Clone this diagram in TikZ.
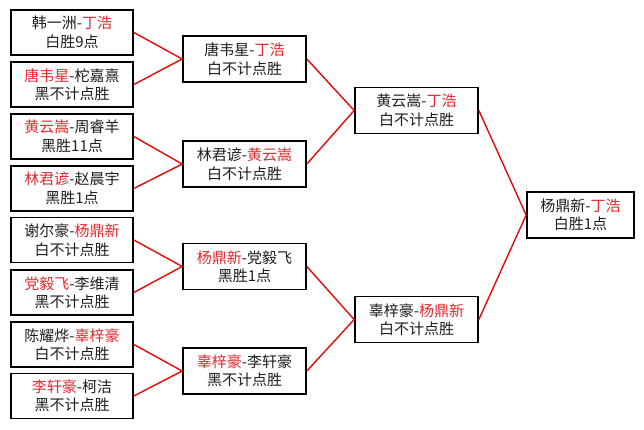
\documentclass[tikz,border=0pt]{standalone}
\usepackage{fontspec}
\newfontfamily\cjk{Noto Sans CJK SC}
\definecolor{winred}{RGB}{228,40,45}
\definecolor{linered}{RGB}{225,10,10}
\definecolor{txt}{RGB}{30,30,30}
\tikzset{
  gamebox/.style={draw=black, line width=1.7pt, fill=white, align=center, inner sep=0pt,
    text=txt, font=\cjk\fontsize{15}{18.5}\selectfont},
  c1box/.style={gamebox, minimum width=122pt, minimum height=45pt},
  c2box/.style={gamebox, minimum width=123pt, minimum height=46pt},
  c4box/.style={gamebox, minimum width=107pt, minimum height=46pt},
  link/.style={draw=linered, line width=1.4pt}
}
\newcommand{\rd}[1]{\textcolor{winred}{#1}}
\begin{document}
\begin{tikzpicture}[x=1pt,y=-1pt]
\useasboundingbox[fill=white] (0,0) rectangle (644,429);
% column 1
\node[c1box] (a1) at (72,32.5) {韩一洲-\rd{丁浩}\\白胜9点};
\node[c1box] (a2) at (72,84.5) {\rd{唐韦星}-柁嘉熹\\黑不计点胜};
\node[c1box] (a3) at (72,136.5) {\rd{黄云嵩}-周睿羊\\黑胜11点};
\node[c1box] (a4) at (72,188.5) {\rd{林君谚}-赵晨宇\\黑胜1点};
\node[c1box] (a5) at (72,240) {谢尔豪-\rd{杨鼎新}\\白不计点胜};
\node[c1box] (a6) at (72,292.5) {\rd{党毅飞}-李维清\\黑不计点胜};
\node[c1box] (a7) at (72,344.5) {陈耀烨-\rd{辜梓豪}\\白不计点胜};
\node[c1box] (a8) at (72,396) {\rd{李轩豪}-柯洁\\黑不计点胜};
% column 2
\node[c2box] (b1) at (244.5,59) {唐韦星-\rd{丁浩}\\白不计点胜};
\node[c2box] (b2) at (244.5,164) {林君谚-\rd{黄云嵩}\\白不计点胜};
\node[c2box] (b3) at (244.5,266.5) {\rd{杨鼎新}-党毅飞\\黑胜1点};
\node[c2box] (b4) at (244.5,371) {\rd{辜梓豪}-李轩豪\\黑不计点胜};
% column 3
\node[c2box] (c1) at (416.5,110.5) {黄云嵩-\rd{丁浩}\\白不计点胜};
\node[c2box] (c2) at (416.5,319.5) {辜梓豪-\rd{杨鼎新}\\白不计点胜};
% final
\node[c4box] (d1) at (580.5,215) {杨鼎新-\rd{丁浩}\\白胜1点};
% connectors
\draw[link] (a1.east) -- (b1.west) -- (a2.east);
\draw[link] (a3.east) -- (b2.west) -- (a4.east);
\draw[link] (a5.east) -- (b3.west) -- (a6.east);
\draw[link] (a7.east) -- (b4.west) -- (a8.east);
\draw[link] (b1.east) -- (c1.west) -- (b2.east);
\draw[link] (b3.east) -- (c2.west) -- (b4.east);
\draw[link] (c1.east) -- (d1.west) -- (c2.east);
\end{tikzpicture}
\end{document}
